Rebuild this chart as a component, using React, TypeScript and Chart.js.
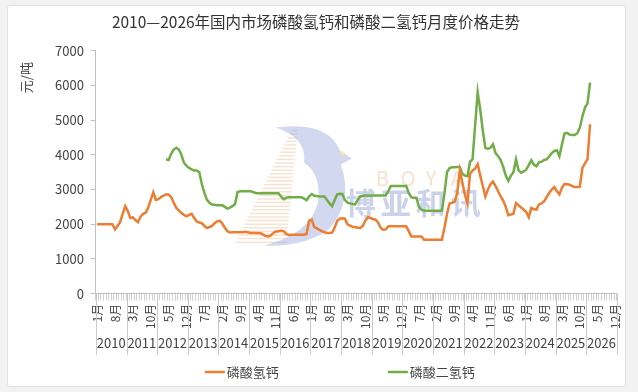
import React, { useEffect, useRef } from "react";
import { Chart, registerables } from "chart.js";

Chart.register(...registerables);

const FONT = '"Noto Sans CJK SC", "Noto Sans", sans-serif';

const chartTitle = "2010—2026年国内市场磷酸氢钙和磷酸二氢钙月度价格走势";
const yUnit = "元/吨";
const seriesNames = ["磷酸氢钙", "磷酸二氢钙"];
const seriesColors = ["#ED7D31", "#70AD47"];
const years = ["2010", "2011", "2012", "2013", "2014", "2015", "2016", "2017", "2018", "2019", "2020", "2021", "2022", "2023", "2024", "2025", "2026"];
const monthNames = ["1月", "2月", "3月", "4月", "5月", "6月", "7月", "8月", "9月", "10月", "11月", "12月"];
const monthLabelStep = 7;
const yMin = 0;
const yMax = 7000;
const yStep = 1000;
const watermarkCn = "博亚和讯";
const watermarkEn = "BOYA";

// 磷酸氢钙 (DCP), monthly, 2010-01 .. 2026-12
const dcpPrices: (number | null)[] = [
  2000, 2000, 2000, 2000, 2000, 2000, 2000,
  1850, 1950, 2060, 2300, 2520, 2380, 2180, 2200, 2120, 2060,
  2220, 2300, 2330, 2480, 2700, 2920, 2700, 2720, 2780, 2820,
  2860, 2850, 2780, 2620, 2470, 2400, 2320, 2270, 2230, 2270,
  2300, 2180, 2080, 2050, 2030, 1950, 1890, 1920, 1950, 2030,
  2080, 2100, 2020, 1900, 1800, 1760, 1770, 1770, 1770, 1770,
  1770, 1780, 1770, 1750, 1750, 1750, 1750, 1740, 1700, 1660,
  1650, 1680, 1750, 1790, 1800, 1810, 1800, 1720, 1690, 1700,
  1700, 1700, 1700, 1700, 1700, 1720, 2100, 2130, 1920, 1880,
  1840, 1800, 1770, 1750, 1750, 1760, 1900, 2100, 2160, 2170,
  2160, 2000, 1960, 1930, 1920, 1900, 1890, 1950, 2100, 2200,
  2180, 2150, 2130, 2050, 1900, 1840, 1850, 1940, 1940, 1940,
  1940, 1940, 1940, 1940, 1940, 1800, 1650, 1650, 1650, 1650,
  1650, 1550, 1550, 1550, 1550, 1550, 1550, 1550, 1550, 1900,
  2300, 2600, 2620, 2650, 2900, 3550, 3200, 2850, 2600, 3450,
  3550, 3600, 3730, 3400, 3100, 2800, 3000, 3150, 3230, 3100,
  2950, 2800, 2680, 2500, 2260, 2280, 2300, 2610, 2550, 2480,
  2420, 2350, 2200, 2470, 2430, 2420, 2570, 2600, 2660, 2780,
  2900, 3000, 3070, 2950, 2860, 3050, 3160, 3150, 3140, 3100,
  3070, 3070, 3080, 3620, 3750, 3870, 4880,
  null, null, null, null, null, null, null, null, null, null,
];

// 磷酸二氢钙 (MCP), monthly, 2010-01 .. 2026-12
const mcpPrices: (number | null)[] = [
  null, null, null, null, null, null, null, null, null, null,
  null, null, null, null, null, null, null, null, null, null,
  null, null, null, null, null, null, null,
  3870, 3850, 4030, 4150, 4200, 4150, 4000, 3770, 3680, 3620,
  3580, 3550, 3550, 3500, 3150, 2900, 2700, 2620, 2570, 2560,
  2550, 2550, 2550, 2500, 2450, 2480, 2520, 2580, 2930, 2950,
  2950, 2950, 2950, 2950, 2930, 2900, 2890, 2890, 2890, 2890,
  2890, 2890, 2890, 2890, 2890, 2800, 2720, 2760, 2780, 2780,
  2780, 2780, 2780, 2780, 2740, 2690, 2800, 2870, 2820, 2810,
  2800, 2800, 2800, 2700, 2600, 2520, 2700, 2860, 2880, 2870,
  2700, 2620, 2600, 2580, 2570, 2700, 2800, 2820, 2830, 2830,
  2830, 2830, 2830, 2830, 2830, 2830, 2830, 2950, 3100, 3100,
  3100, 3100, 3100, 3100, 3100, 2900, 2780, 2760, 2760, 2500,
  2420, 2390, 2390, 2390, 2390, 2390, 2390, 2390, 2390, 2900,
  3500, 3620, 3640, 3640, 3650, 3650, 3450, 3400, 3380, 3800,
  3870, 4850, 5800, 5300, 4700, 4200, 4170, 4200, 4300, 4050,
  3960, 3850, 3650, 3400, 3250, 3400, 3500, 3870, 3550, 3480,
  3520, 3570, 3700, 3840, 3720, 3670, 3780, 3800, 3850, 3870,
  3950, 4050, 4110, 4130, 3960, 4300, 4610, 4630, 4580, 4570,
  4570, 4620, 4780, 5100, 5360, 5480, 6080,
  null, null, null, null, null, null, null, null, null, null,
];

const categories: string[] = years.flatMap((y) => monthNames.map((m) => `${y}年${m}`));

const decorPlugin = {
  id: "decor",
  beforeDatasetsDraw(chart: any) {
    const { ctx, chartArea: a } = chart;
    // positions relative to the plot area (origin = plot top-left)
    const P = (x: number, y: number): [number, number] => [a.left + x, a.top + y];
    ctx.save();
    // striped fan
    ctx.strokeStyle = "rgba(240,200,165,0.5)";
    ctx.lineWidth = 1.5;
    for (let y = 80; y <= 194; y += 3.6) {
      const [x1, yy] = P(196 - (y - 79) * 0.5, y);
      const [x2] = P(196 - (y - 79) * 0.1 + 6, y);
      ctx.beginPath();
      ctx.moveTo(x1, yy);
      ctx.lineTo(x2, yy);
      ctx.stroke();
    }
    // blue bird "B"
    ctx.fillStyle = "rgba(165,178,225,0.5)";
    ctx.beginPath();
    ctx.moveTo(...P(180, 77));
    ctx.quadraticCurveTo(...P(232, 70), ...P(244, 100));
    ctx.lineTo(...P(256, 108));
    ctx.lineTo(...P(245, 114));
    ctx.quadraticCurveTo(...P(258, 152), ...P(232, 180));
    ctx.quadraticCurveTo(...P(205, 197), ...P(168, 195));
    ctx.quadraticCurveTo(...P(214, 184), ...P(222, 152));
    ctx.quadraticCurveTo(...P(226, 124), ...P(208, 112));
    ctx.quadraticCurveTo(...P(212, 88), ...P(180, 77));
    ctx.closePath();
    ctx.fill();
    ctx.fillStyle = "rgba(250,235,150,0.9)";
    ctx.beginPath();
    ctx.arc(...P(247, 103), 2, 0, Math.PI * 2);
    ctx.fill();
    // BOYA
    ctx.fillStyle = "rgba(240,200,165,0.55)";
    ctx.font = `20px ${FONT}`;
    ctx.textAlign = "left";
    ctx.textBaseline = "middle";
    for (let i = 0; i < watermarkEn.length; i++) {
      ctx.fillText(watermarkEn[i], ...P(280 + i * 25, 128));
    }
    // 博亚和讯
    ctx.fillStyle = "rgba(155,165,215,0.5)";
    ctx.font = `bold 30px ${FONT}`;
    for (let i = 0; i < watermarkCn.length; i++) {
      ctx.fillText(watermarkCn[i], ...P(250 + i * 35, 152));
    }
    ctx.restore();
  },
  afterDraw(chart: any) {
    const { ctx, chartArea: a } = chart;
    const xs = chart.scales.x;
    const w = xs.getPixelForValue(1) - xs.getPixelForValue(0);
    ctx.save();
    // year separators
    ctx.strokeStyle = "#c9c9c9";
    ctx.lineWidth = 1;
    for (let k = 0; k <= years.length; k++) {
      const px = Math.round(xs.getPixelForValue(k * 12) - w / 2) + 0.5;
      ctx.beginPath();
      ctx.moveTo(px, a.bottom);
      ctx.lineTo(px, a.bottom + 61);
      ctx.stroke();
    }
    // year labels
    ctx.fillStyle = "#444";
    ctx.font = `13px ${FONT}`;
    ctx.textAlign = "center";
    ctx.textBaseline = "middle";
    years.forEach((y, k) => {
      const cx = (xs.getPixelForValue(k * 12) + xs.getPixelForValue(k * 12 + 11)) / 2;
      ctx.fillText(y, cx, a.bottom + 49);
    });
    // y unit
    ctx.save();
    ctx.translate(a.left - 70, a.top + 27);
    ctx.rotate(-Math.PI / 2);
    ctx.font = `13px ${FONT}`;
    ctx.fillText(yUnit, 0, 0);
    ctx.restore();
    // legend
    const ly = chart.height - 14;
    const startX = a.left + 109;
    const gapX = 183;
    seriesNames.forEach((name, i) => {
      const x0 = startX + i * gapX;
      ctx.strokeStyle = seriesColors[i];
      ctx.lineWidth = 2.5;
      ctx.beginPath();
      ctx.moveTo(x0, ly);
      ctx.lineTo(x0 + 20, ly);
      ctx.stroke();
      ctx.fillStyle = "#444";
      ctx.textAlign = "left";
      ctx.font = `13px ${FONT}`;
      ctx.fillText(name, x0 + 22, ly);
    });
    ctx.restore();
  },
};

export default function App() {
  const ref = useRef<HTMLCanvasElement | null>(null);
  useEffect(() => {
    if (!ref.current) return;
    const chart = new Chart(ref.current, {
      type: "line",
      data: {
        labels: categories,
        datasets: [
          {
            label: seriesNames[0],
            data: dcpPrices,
            borderColor: seriesColors[0],
            backgroundColor: seriesColors[0],
            borderWidth: 2.5,
            pointRadius: 0,
            tension: 0,
          },
          {
            label: seriesNames[1],
            data: mcpPrices,
            borderColor: seriesColors[1],
            backgroundColor: seriesColors[1],
            borderWidth: 2.5,
            pointRadius: 0,
            tension: 0,
          },
        ],
      },
      options: {
        responsive: false,
        animation: false,
        layout: { padding: { left: -9, right: 0, top: 0, bottom: 54 } },
        plugins: {
          legend: { display: false },
          tooltip: { enabled: false },
          title: {
            display: true,
            text: chartTitle,
            color: "#333",
            font: { size: 15.5, family: FONT, weight: "normal" },
            padding: { top: 7, bottom: 19 },
          },
        },
        scales: {
          x: {
            type: "category",
            offset: true,
            grid: { display: true, drawOnChartArea: false, drawTicks: true, tickLength: 7, color: "#d2d2d2", offset: true },
            border: { display: true, color: "#bfbfbf" },
            ticks: {
              autoSkip: false,
              maxRotation: 90,
              minRotation: 90,
              padding: 3,
              color: "#444",
              font: { size: 12, family: FONT },
              callback: (_v: any, i: number) => (i % monthLabelStep === 0 ? monthNames[i % 12] : ""),
            },
          },
          y: {
            min: yMin,
            max: yMax,
            afterFit: (s: any) => {
              s.width += 49;
            },
            grid: { display: true, drawOnChartArea: false, tickLength: 5, color: "#bfbfbf" },
            border: { display: true, color: "#bfbfbf" },
            ticks: {
              stepSize: yStep,
              padding: 7,
              color: "#444",
              font: { size: 13, family: FONT },
              callback: (v: any) => String(v),
            },
          },
        },
      },
      plugins: [decorPlugin],
    } as any);
    return () => chart.destroy();
  }, []);
  return (
    <div style={{ position: "fixed", left: 0, top: 0, width: 638, height: 392, background: "#f2f2f2" }}>
      <div
        style={{
          position: "absolute",
          left: 7,
          top: 5,
          width: 619,
          height: 382,
          background: "#fff",
          border: "1px solid #e2e2e2",
          borderRadius: 3,
          boxSizing: "border-box",
        }}
      >
        <canvas ref={ref} width={625} height={380} style={{ display: "block", position: "absolute", left: 0, top: 0 }} />
      </div>
    </div>
  );
}
